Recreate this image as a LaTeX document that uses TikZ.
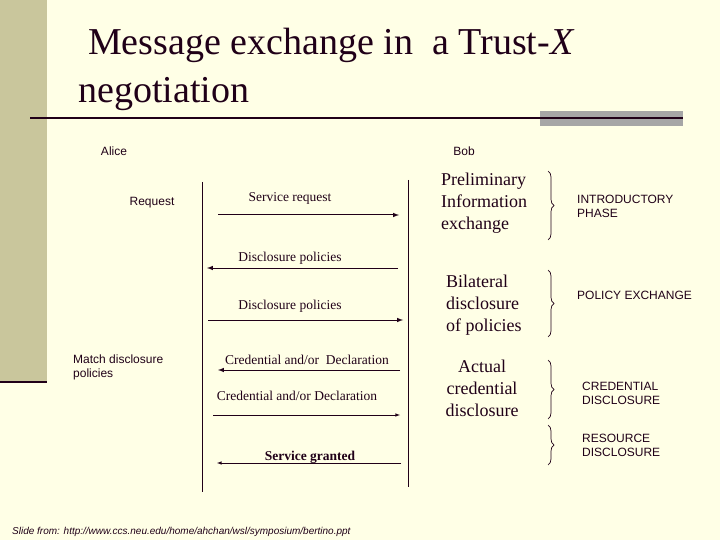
\documentclass[tikz,border=0pt]{standalone}
\usepackage{fontspec}
\setmainfont{Liberation Serif}
\setsansfont{Liberation Sans}
\usetikzlibrary{decorations.pathreplacing}
\definecolor{bg}{HTML}{FFFFE6}
\definecolor{bar}{HTML}{C9C69C}
\definecolor{ink}{HTML}{200018}
\tikzset{
  msg/.style={draw=ink,line width=1pt,-latex},
  life/.style={draw=ink,line width=0.8pt},
  lbl/.style={font=\fontsize{13.5}{13.5}\selectfont\rmfamily,text=ink,inner sep=0},
  sml/.style={font=\fontsize{12}{14}\selectfont\sffamily,text=ink,inner sep=0,align=left},
  big/.style={font=\fontsize{18}{21.7}\selectfont\rmfamily,text=ink,inner sep=0},
  brc/.style={draw=ink,line width=0.7pt,decorate,decoration={brace,amplitude=6pt}}
}
\begin{document}
\begin{tikzpicture}[x=1pt,y=-1pt]
\fill[bg] (0,0) rectangle (720,540);
\useasboundingbox (0,0) rectangle (720,540);
\fill[bar] (0,0) rectangle (47,382);
\draw[ink,line width=1.5pt] (0,382) -- (47,382);
\node[anchor=base west,inner sep=0,text=ink,font=\fontsize{38}{38}\selectfont] (t1) at (88,55) {Message exchange in\ \ a Trust-\textit{X}};
\node[anchor=base west,inner sep=0,text=ink,font=\fontsize{38}{38}\selectfont] (t2) at (78,103) {negotiation};
\fill[black!35] (540,111) rectangle (683,126);
\draw[ink,line width=1.3pt] (30,118) -- (683,118);
\node[sml] (alice) at (114,151) {Alice};
\node[sml] (bob) at (464,151) {Bob};
\coordinate (a0) at (202,182); \coordinate (a1) at (202,492);
\coordinate (b0) at (408,180); \coordinate (b1) at (408,487);
\draw[life] (a0) -- (a1); \draw[life] (b0) -- (b1);
\coordinate (m1s) at (218,215); \coordinate (m1e) at (399,215);
\coordinate (m2s) at (398,268); \coordinate (m2e) at (207,268);
\coordinate (m3s) at (208,320); \coordinate (m3e) at (403,320);
\coordinate (m4s) at (400,370); \coordinate (m4e) at (218,370);
\coordinate (m5s) at (213,415); \coordinate (m5e) at (400,415);
\coordinate (m6s) at (401,463); \coordinate (m6e) at (217,463);
\draw[msg] (m1s) -- (m1e);
\draw[msg] (m2s) -- (m2e);
\draw[msg] (m3s) -- (m3e);
\draw[msg] (m4s) -- (m4e);
\draw[msg,line width=0.6pt] (m5s) -- (m5e);
\draw[msg,line width=0.6pt] (m6s) -- (m6e);
\node[lbl] (l1) at (290,198) {Service request};
\node[lbl] (l2) at (290,258) {Disclosure policies};
\node[lbl] (l3) at (290,306) {Disclosure policies};
\node[lbl] (l4) at (307,360) {Credential and/or\ \ Declaration};
\node[lbl] (l5) at (297,396) {Credential and/or Declaration};
\node[lbl,font=\fontsize{13.5}{13.5}\selectfont\rmfamily\bfseries] (l6) at (310,457) {Service granted};
\node[sml] (req) at (152,203) {Request};
\node[sml,anchor=north west] (match) at (73,355) {Match disclosure\\policies};
\node[big,anchor=north west,align=left] (p1) at (441,173) {Preliminary\\Information\\exchange};
\node[big,anchor=north west,align=left] (p2) at (446,275) {Bilateral\\disclosure\\of policies};
\node[big,anchor=north,align=center] (p3) at (482,360) {Actual\\credential\\disclosure};
\draw[brc] (548,171) -- (548,240);
\draw[brc] (548,270) -- (548,337);
\draw[brc] (548,360) -- (548,419);
\draw[brc] (548,425) -- (548,465);
\node[sml,anchor=north west] (ph1) at (577,195) {INTRODUCTORY\\PHASE};
\node[sml,anchor=north west] (ph2) at (577,291) {POLICY EXCHANGE};
\node[sml,anchor=north west] (ph3) at (582,382) {CREDENTIAL\\DISCLOSURE};
\node[sml,anchor=north west] (ph4) at (582,434) {RESOURCE\\DISCLOSURE};
\node[sml,anchor=west,font=\fontsize{10}{11}\selectfont\sffamily\itshape] (foot) at (12,532) {Slide from: http://www.ccs.neu.edu/home/ahchan/wsl/symposium/bertino.ppt};
\end{tikzpicture}
\end{document}
